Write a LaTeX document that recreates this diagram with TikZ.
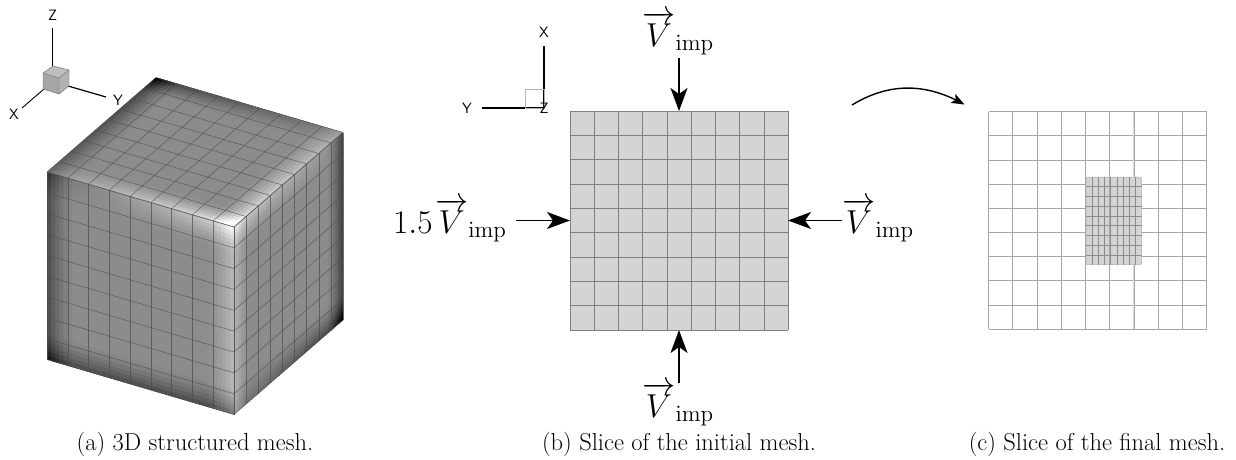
\documentclass[tikz,border=0pt]{standalone}
\usepackage{amsmath}
\usetikzlibrary{arrows.meta,bending}
\definecolor{meshline}{gray}{0.3}
\definecolor{slicefill}{gray}{0.83}
\tikzset{
  x=1pt,y=-1pt,
  axisline/.style={line width=1.2pt,black},
  axislabel/.style={font=\fontsize{15}{15}\sffamily,inner sep=0pt},
  gridline/.style={line width=0.55pt,draw=meshline,opacity=0.7},
  sliceline/.style={line width=0.5pt,draw=black!50},
  force/.style={line width=1.5pt,-{Stealth[length=23pt,width=17pt,inset=6pt]}},
  capt/.style={font=\fontsize{24.5}{27}\selectfont,inner sep=0pt},
  vel/.style={font=\fontsize{20}{24}\selectfont,inner sep=0pt,scale=1.6,transform shape}
}
\newcommand{\Vimp}{\overrightarrow{V}_{\mathrm{imp}}}
\newcommand{\paintface}[7]{%
  \begin{scope}
  \clip (#1,#2)--++(#3,#4)--++(#5,#6)--++(-#3,-#4)--cycle;
  \foreach \i in {0,...,44}{\foreach \j in {0,...,44}{%
    \pgfmathsetmacro{\u}{(\i+0.5)/45}\pgfmathsetmacro{\v}{(\j+0.5)/45}%
    \pgfmathsetmacro{\g}{max(0,min(1,#7))}%
    \definecolor{cellc}{gray}{\g}%
    \pgfmathsetmacro{\ax}{#1+(#3)*\i/45+(#5)*\j/45}\pgfmathsetmacro{\ay}{#2+(#4)*\i/45+(#6)*\j/45}%
    \pgfmathsetmacro{\bx}{\ax+(#3)/22.5}\pgfmathsetmacro{\by}{\ay+(#4)/22.5}%
    \pgfmathsetmacro{\cx}{\bx+(#5)/22.5}\pgfmathsetmacro{\cy}{\by+(#6)/22.5}%
    \pgfmathsetmacro{\dx}{\ax+(#5)/22.5}\pgfmathsetmacro{\dy}{\ay+(#6)/22.5}%
    \fill[cellc] (\ax,\ay)--(\bx,\by)--(\cx,\cy)--(\dx,\dy)--cycle;
  }}%
  \end{scope}
}
\pgfmathdeclarefunction{bnd}{1}{\pgfmathparse{(max(0,1-(#1)/0.15))^1.5}}
\begin{document}
\begin{tikzpicture}
\useasboundingbox (0,0) rectangle (1236,459);
% ---- cube faces
\paintface{47}{172}{187}{55}{0}{187.5}{0.55-0.26*bnd(\u)-0.26*bnd(1-\v)+(0.42*\u-0.12)*bnd(\v)+0.18*bnd(1-\u)}
\paintface{234}{227}{109}{-94.5}{0}{187.5}{0.55+0.17*bnd(\u)-0.3*bnd(1-\u)-(0.08+0.22*\u)*bnd(1-\v)+(0.25-0.25*\u)*bnd(\v)}
\paintface{47}{172}{109}{-94.5}{187}{55}{0.55+(0.05+0.33*\v)*bnd(\u)-(0.18+0.12*\u)*bnd(\v)+(-0.05-0.25*(1-\v))*bnd(1-\u)+(0.33-0.2*\u)*bnd(1-\v)}
% mesh lines
\foreach \k in {0,...,9}{
  \pgfmathsetmacro{\t}{\k/9}
  \draw[gridline] (47+187*\t,172+55*\t) -- (47+187*\t,359.5+55*\t);
  \draw[gridline] (47,172+187.5*\t) -- (234,227+187.5*\t);
  \draw[gridline] (234+109*\t,227-94.5*\t) -- (234+109*\t,414.5-94.5*\t);
  \draw[gridline] (234,227+187.5*\t) -- (343,132.5+187.5*\t);
  \draw[gridline] (47+109*\t,172-94.5*\t) -- (234+109*\t,227-94.5*\t);
  \draw[gridline] (47+187*\t,172+55*\t) -- (156+187*\t,77.5+55*\t);
}
% ---- triad of the cube
\coordinate (zt) at (52.5,28); \coordinate (yt) at (106,97); \coordinate (xt) at (22,108);
\draw[axisline] (52.5,66) -- (zt);
\draw[axisline] (68,86) -- (yt);
\draw[line width=0.9pt] (44,89) -- (xt);
\fill[gray!70!white] (43,73)--(59,78)--(59,94)--(43,89)--cycle;
\fill[gray!50!white] (43,73)--(53,66)--(69,70)--(59,78)--cycle;
\fill[gray!60!white] (59,78)--(69,70)--(69,86)--(59,94)--cycle;
\draw[line width=0.4pt,draw=black!60] (43,73)--(59,78)--(59,94)--(43,89)--cycle (59,78)--(69,70)--(69,86)--(59,94) (43,73)--(53,66)--(69,70);
\node[axislabel] (zl) at (52.5,15) {Z};
\node[axislabel] (yl) at (118,100) {Y};
\node[axislabel] (xl) at (14,114) {X};
% ---- middle slice
\fill[slicefill] (570,111) rectangle (788,330);
\foreach \k in {0,...,9}{
  \pgfmathsetmacro{\t}{\k/9}
  \draw[sliceline] (570+218*\t,111) -- (570+218*\t,330);
  \draw[sliceline] (570,111+219*\t) -- (788,111+219*\t);
}
% triad 2
\draw[axisline] (544,46) -- (544,108);
\draw[axisline] (482,108) -- (544,108);
\draw[line width=0.6pt,draw=black!30] (525.5,89.5) rectangle (544,108);
\node[axislabel] (xb) at (544,32) {X};
\node[axislabel] (yb) at (467,108) {Y};
\node[axislabel] (zb) at (544,108) {Z};
% forces
\coordinate (tS) at (679,58); \coordinate (tE) at (679,111);
\coordinate (bS) at (679,383); \coordinate (bE) at (679,330);
\coordinate (lS) at (516,220.5); \coordinate (lE) at (570,220.5);
\coordinate (rS) at (841.5,220.5); \coordinate (rE) at (788,220.5);
\draw[force] (tS) -- (tE);
\draw[force] (bS) -- (bE);
\draw[force] (lS) -- (lE);
\draw[force] (rS) -- (rE);
\node[vel,anchor=base west] (vt) at (642,46) {$\Vimp$};
\node[vel,anchor=base west] (vb) at (642,417) {$\Vimp$};
\node[vel,anchor=base east] (vl) at (507,233) {$1.5\mskip1.3mu\Vimp$};
\node[vel,anchor=base west] (vr) at (842,233) {$\Vimp$};
% curved arrow
\coordinate (cS) at (852,105); \coordinate (cE) at (964.5,104.5);
\draw[line width=1.4pt,-{Stealth[length=13pt,width=10pt,inset=3pt]}] (cS) .. controls (888,83) and (925,82) .. (cE);
% ---- right slice
\foreach \k in {0,...,9}{
  \pgfmathsetmacro{\t}{\k/9}
  \draw[sliceline,draw=black!35] (988.5+218*\t,111.5) -- (988.5+218*\t,329);
  \draw[sliceline,draw=black!35] (988.5,111.5+217.5*\t) -- (1206.5,111.5+217.5*\t);
}
\draw[line width=1.2pt,draw=black!13] (1133.8,111.5) -- (1133.8,329);
\fill[slicefill,rounded corners=1pt] (1086,177) rectangle (1141.5,264.5);
\draw[line width=0.5pt,draw=black!30,rounded corners=1pt] (1086,177) rectangle (1141.5,264.5);
\foreach \k in {1,...,8}{
  \pgfmathsetmacro{\t}{\k/9}
  \draw[line width=0.5pt,draw=black!45] (1086+55.5*\t,177) -- (1086+55.5*\t,264.5);
  \draw[line width=0.5pt,draw=black!45] (1086,177+87.5*\t) -- (1141.5,177+87.5*\t);
}
\draw[line width=1pt,draw=black!35] (1109.7,177) -- (1109.7,264.5);
% ---- captions
\node[capt,anchor=base] (ca) at (195,450) {(a) 3D structured mesh.};
\node[capt,anchor=base] (cb) at (679,450) {(b) Slice of the initial mesh.};
\node[capt,anchor=base] (cc) at (1097,450) {(c) Slice of the final mesh.};
\end{tikzpicture}
\end{document}
